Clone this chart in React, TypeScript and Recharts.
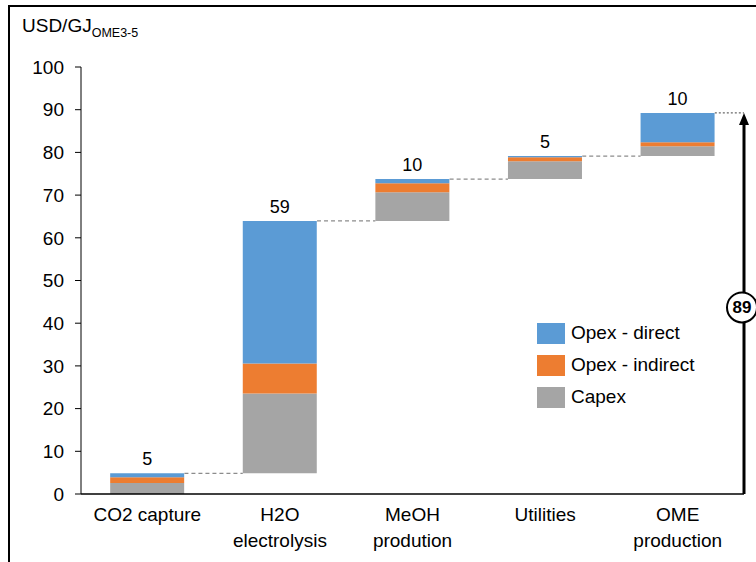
import {
  Bar,
  BarChart,
  LabelList,
  Legend,
  ReferenceLine,
  XAxis,
  YAxis,
} from "recharts";

// cost steps along the OME3-5 chain, USD per GJ of product
const CATEGORIES = [
  "CO2 capture",
  "H2O\nelectrolysis",
  "MeOH\nprodution",
  "Utilities",
  "OME\nproduction",
];
const CAPEX = [2.6, 18.7, 6.7, 4.2, 2.3];
const OPEX_INDIRECT = [1.3, 7.0, 2.1, 0.9, 0.9];
const OPEX_DIRECT = [0.95, 33.4, 1.0, 0.3, 6.9];
const Y_TICKS = [0, 10, 20, 30, 40, 50, 60, 70, 80, 90, 100];

const BLUE = "#5B9BD5";
const ORANGE = "#ED7D31";
const GRAY = "#A5A5A5";
const FONT = '"Liberation Sans", Arial, sans-serif';
// gap on each side of a bar, as share of the category band
const BAR_GAP = 0.22;

let running = 0;
const rows = CATEGORIES.map((name, i) => {
  const total = CAPEX[i] + OPEX_INDIRECT[i] + OPEX_DIRECT[i];
  const row = {
    name,
    idx: i,
    base: running,
    capex: CAPEX[i],
    indirect: OPEX_INDIRECT[i],
    direct: OPEX_DIRECT[i],
    total,
    top: running + total,
  };
  running += total;
  return row;
});
const GRAND_TOTAL = running;

const LEGEND_ITEMS: [string, string][] = [
  ["Opex - direct", BLUE],
  ["Opex - indirect", ORANGE],
  ["Capex", GRAY],
];

function CategoryTick({ x, y, payload }: any) {
  const lines = String(payload.value).split("\n");
  return (
    <text x={x} y={y} textAnchor="middle" fill="#000" fontSize={19} fontFamily={FONT}>
      {lines.map((l, i) => (
        <tspan key={i} x={x} y={y + 27 + i * 26}>
          {l}
        </tspan>
      ))}
    </text>
  );
}

function LegendBox() {
  return (
    <div style={{ fontFamily: FONT, fontSize: 19, color: "#000" }}>
      {LEGEND_ITEMS.map(([label, color]) => (
        <div
          key={label}
          style={{ display: "flex", alignItems: "center", height: 32 }}
        >
          <span
            style={{
              display: "inline-block",
              width: 28,
              height: 21,
              background: color,
              marginRight: 6,
            }}
          />
          {label}
        </div>
      ))}
    </div>
  );
}

// vertical total arrow on the right edge, with the rounded sum in a circle
function TotalArrow({ x1, y1, y2 }: any) {
  const mid = (y1 + y2) / 2 + 4;
  return (
    <g>
      <line x1={x1} y1={y1} x2={x1} y2={y2 + 10} stroke="#000" strokeWidth={3} />
      <polygon
        points={`${x1},${y2} ${x1 - 5},${y2 + 12} ${x1 + 5},${y2 + 12}`}
        fill="#000"
      />
      <circle cx={x1 - 2} cy={mid} r={15} fill="#fff" stroke="#000" strokeWidth={2} />
      <text
        x={x1 - 2}
        y={mid + 6}
        textAnchor="middle"
        fontSize={17}
        fontWeight="bold"
        fontFamily={FONT}
        fill="#000"
      >
        {Math.round(GRAND_TOTAL)}
      </text>
    </g>
  );
}

export default function App() {
  return (
    <div
      style={{
        position: "fixed",
        left: 0,
        top: 0,
        width: 756,
        height: 562,
        overflow: "hidden",
        background: "#fff",
      }}
    >
      <div
        style={{
          position: "absolute",
          left: 8,
          top: 5,
          width: 800,
          height: 600,
          borderLeft: "2px solid #000",
          borderTop: "2px solid #000",
        }}
      />
      <svg
        width={200}
        height={50}
        style={{ position: "absolute", left: 0, top: 0 }}
      >
        <text x={22} y={32} fontSize={19} fontFamily={FONT} fill="#000">
          USD/GJ
          <tspan fontSize={12.5} dy={5}>
            OME3-5
          </tspan>
        </text>
      </svg>
      <div style={{ position: "absolute", left: 0, top: 0 }}>
        <BarChart
          width={756}
          height={562}
          data={rows}
          margin={{ top: 67, right: 12, left: 0, bottom: 0 }}
          barCategoryGap={`${BAR_GAP * 100}%`}
        >
          <XAxis
            dataKey="name"
            interval={0}
            height={68}
            tickLine={false}
            tickSize={0}
            tickMargin={0}
            axisLine={{ stroke: "#000", strokeWidth: 1.5 }}
            tick={<CategoryTick />}
          />
          {/* continuous band coordinates: band i spans [i, i + 1] */}
          <XAxis
            xAxisId="num"
            dataKey="idx"
            type="number"
            domain={[0, CATEGORIES.length]}
            allowDataOverflow
            hide
          />
          <YAxis
            width={81}
            domain={[0, 100]}
            ticks={Y_TICKS}
            interval={0}
            tickSize={6}
            tickMargin={11}
            axisLine={{ stroke: "#000" }}
            tickLine={{ stroke: "#000" }}
            tick={{ fill: "#000", fontSize: 19, fontFamily: FONT }}
          />
          <Legend
            layout="horizontal"
            verticalAlign="middle"
            align="center"
            content={<LegendBox />}
            wrapperStyle={{ left: 537, top: 317, width: 220 }}
          />
          <Bar dataKey="base" stackId="w" fill="transparent" isAnimationActive={false} />
          <Bar dataKey="capex" stackId="w" fill={GRAY} isAnimationActive={false} />
          <Bar dataKey="indirect" stackId="w" fill={ORANGE} isAnimationActive={false} />
          <Bar dataKey="direct" stackId="w" fill={BLUE} isAnimationActive={false}>
            <LabelList
              dataKey="total"
              position="top"
              offset={8}
              formatter={(v: any) => Math.round(Number(v))}
              fill="#000"
              fontSize={18}
              fontFamily={FONT}
            />
          </Bar>
          {rows.slice(0, -1).map((r, i) => (
            <ReferenceLine
              key={r.name}
              xAxisId="num"
              segment={[
                { x: i + 1 - BAR_GAP, y: r.top },
                { x: i + 1 + BAR_GAP, y: r.top },
              ]}
              stroke="#8c8c8c"
              strokeWidth={1.3}
              strokeDasharray="4 3"
            />
          ))}
          <ReferenceLine
            xAxisId="num"
            segment={[
              { x: CATEGORIES.length - BAR_GAP, y: GRAND_TOTAL },
              { x: CATEGORIES.length, y: GRAND_TOTAL },
            ]}
            stroke="#444"
            strokeDasharray="2 2"
          />
          <ReferenceLine
            xAxisId="num"
            segment={[
              { x: CATEGORIES.length, y: 0 },
              { x: CATEGORIES.length, y: GRAND_TOTAL },
            ]}
            shape={<TotalArrow />}
          />
        </BarChart>
      </div>
    </div>
  );
}
